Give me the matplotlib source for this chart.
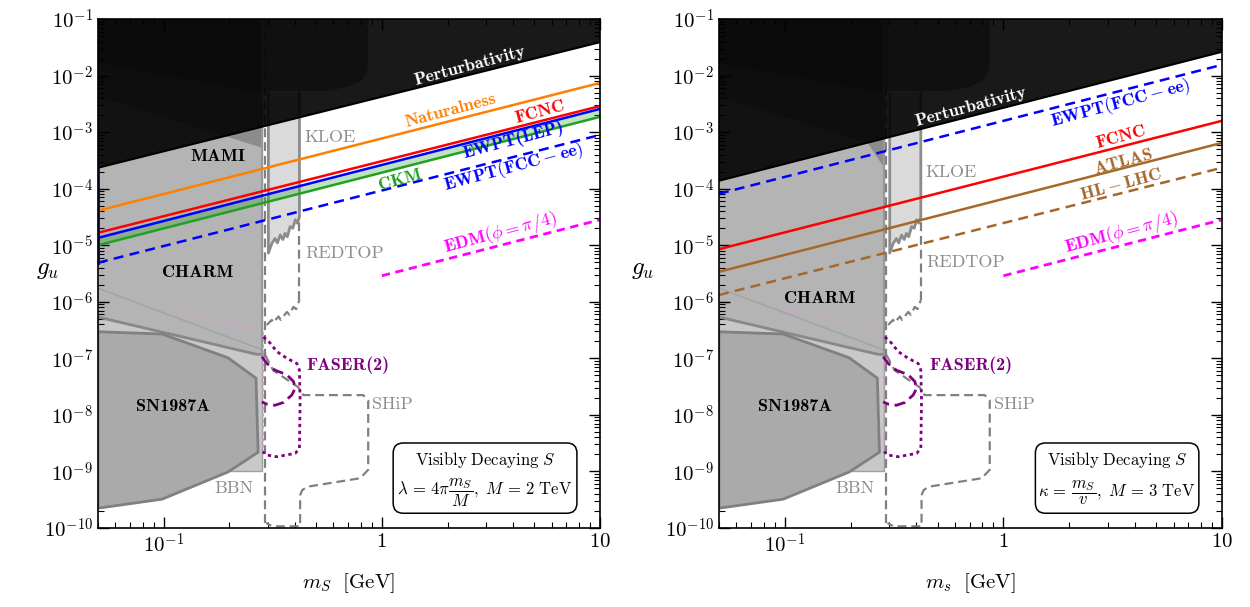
import numpy as np
import matplotlib
matplotlib.use('Agg')
import matplotlib.pyplot as plt
from matplotlib.patches import FancyBboxPatch
from matplotlib.ticker import LogLocator, NullFormatter, FixedLocator, FixedFormatter

plt.rcParams['mathtext.fontset'] = 'cm'
plt.rcParams['font.family'] = 'serif'
plt.rcParams['font.serif'] = ['cmr10', 'DejaVu Serif']
plt.rcParams['axes.unicode_minus'] = False

# ---------------- data (log10 g_u) ----------------
M_ENDS = [0.05, 10.0]          # straight lines are given at these masses

# left panel: lambda = 4 pi m_S / M, M = 2 TeV
left_pert = [-3.63, -1.41]
left_natural = [-4.39, -2.13]
left_fcnc = [-4.78, -2.54]
left_ewpt_lep = [-4.87, -2.59]
left_ckm = [-5.00, -2.73]
left_ewpt_fcc = [-5.31, -3.05]
left_mami_m = [0.05, 0.187, 0.285]
left_mami_lg = [-2.37, -3.06, -3.28]

# right panel: kappa = m_S / v, M = 3 TeV
right_pert = [-3.86, -1.58]
right_ewpt_fcc = [-4.09, -1.81]
right_fcnc = [-5.07, -2.80]
right_atlas = [-5.47, -3.19]
right_hllhc = [-5.88, -3.63]
right_mami_m = [0.05, 0.239, 0.285]
right_mami_lg = [-2.37, -3.19, -3.63]

edm_m = [1.0, 10.0]
edm_lg = [-5.54, -4.55]

# common regions
top_m = [0.05, 0.568, 0.701, 0.813, 0.857, 0.866, 0.866, 0.05]
top_lg = [-2.27, -2.27, -2.20, -2.08, -1.94, -1.69, -1.0, -1.0]
corner_m = [0.05, 0.285, 0.285, 0.05]
corner_lg = [-1.78, -2.31, -1.0, -1.0]

charm_m = [0.05, 0.254, 0.268, 0.283]
charm_lg = [-6.27, -6.91, -6.93, -6.93]
faint_m = [0.05, 0.283]
faint_lg = [-5.76, -6.85]

bbn_m = [0.05, 0.283]
bbn_lg = -9.0

sn_m = [0.05, 0.0984, 0.197, 0.265, 0.271, 0.197, 0.0984, 0.05]
sn_lg = [-6.53, -6.57, -6.99, -7.35, -8.66, -9.01, -9.49, -9.65]

kloe_m = [0.302, 0.313, 0.324, 0.332, 0.342, 0.352, 0.360, 0.369, 0.380,
          0.391, 0.401, 0.410, 0.419]
kloe_lg = [-5.14, -4.97, -4.88, -4.96, -4.82, -4.90, -4.79, -4.85, -4.67,
           -4.70, -4.55, -4.61, -4.50]
kloe_top = -2.31

redtop_m = [0.297, 0.313, 0.318, 0.336, 0.344, 0.367, 0.377, 0.393, 0.405, 0.419]
redtop_lg = [-6.41, -6.32, -6.37, -6.26, -6.32, -6.18, -6.23, -6.09, -6.13, -5.97]

ship_m = [0.2917, 0.3175, 0.4135, 0.436, 0.821, 0.866, 0.866, 0.796, 0.455,
          0.4315, 0.4222, 0.4222, 0.3143, 0.2948]
ship_lg = [-6.94, -7.21, -7.51, -7.65, -7.65, -7.74, -8.97, -9.12, -9.27,
           -9.33, -9.42, -9.97, -9.97, -9.91]

faser2_m = [0.2866, 0.3076, 0.330, 0.367, 0.4077, 0.419, 0.4222, 0.419,
            0.401, 0.330, 0.297, 0.2845]
faser2_lg = [-6.62, -6.73, -6.88, -7.00, -7.09, -7.21, -7.74, -8.59,
             -8.68, -8.74, -8.71, -8.65]
faser2_faint_m = [0.0993, 0.2825]
faser2_faint_lg = [-6.11, -6.53]

faser_m = [0.2818, 0.297, 0.324, 0.367, 0.3935, 0.401, 0.3865, 0.354, 0.324,
           0.297, 0.2818]
faser_lg = [-6.97, -7.09, -7.21, -7.29, -7.41, -7.53, -7.65, -7.78, -7.83,
            -7.81, -7.77]

GRAY_TXT = '#8c8c8c'
BROWN = '#a5682a'
PURPLE = '#800080'


def P(lg):
    return 10.0 ** np.asarray(lg, dtype=float)


def draw_common(ax, mami_m, mami_lg, pert):
    # regions hidden under the perturbativity band
    ax.fill(top_m, P(top_lg), color='#a0a0a0', lw=0, zorder=1.25)
    ax.fill(mami_m + [0.285, 0.05], P(mami_lg + [-1.0, -1.0]),
            color='#8c8c8c', lw=0, zorder=1.3)
    ax.fill(corner_m, P(corner_lg), color='#6e6e6e', lw=0, zorder=1.35)
    # BBN
    ax.fill([bbn_m[0], bbn_m[1], bbn_m[1], bbn_m[0]],
            P([bbn_lg, bbn_lg, -1.0, -1.0]), facecolor='#c8c8c8',
            edgecolor='#a0a0a0', lw=1, zorder=1.1)
    # CHARM
    ax.fill(charm_m + [0.283, 0.05], P(charm_lg + [-1.0, -1.0]),
            color='#b4b4b4', lw=0, zorder=1.2)
    ax.plot(charm_m, P(charm_lg), color='#888888', lw=2, zorder=2.2)
    ax.plot([0.283, 0.283], P([charm_lg[-1], -1.0]), color='#999999',
            lw=1.5, zorder=2.2)
    ax.plot(faint_m, P(faint_lg), color='#a2a2a2', lw=1, zorder=2.1)
    # SN1987A
    ax.fill(sn_m, P(sn_lg), facecolor='#aaaaaa', edgecolor='#808080',
            lw=2, zorder=2.3)
    # KLOE
    km = [kloe_m[0]] + kloe_m + [kloe_m[-1]]
    kl = [kloe_top] + kloe_lg + [kloe_top]
    ax.fill(km, P(kl), facecolor='#dadada', lw=0, zorder=2)
    ax.plot(km, P(kl), color='#8c8c8c', lw=2, zorder=2.2)
    # FASER(2) faint part behind the grey
    ax.plot(faser2_faint_m, P(faser2_faint_lg), color='#c9a6c9',
            ls=(0, (1.5, 1.5)), lw=1.5, zorder=2.15)
    ax.plot([0.2845, 0.2845], P([-6.53, -8.65]), color='#c9a6c9',
            ls=(0, (1.5, 1.5)), lw=1.5, zorder=2.15)
    # dashed grey projections
    dash = dict(color='#808080', ls=(0, (4, 2.2)), lw=1.6, zorder=3)
    ax.plot([0.2917, 0.2917], P([-9.91, -1.0]), **dash)
    ax.plot(ship_m, P(ship_lg), **dash)
    ax.plot(redtop_m, P(redtop_lg), **dash)
    ax.plot([0.419, 0.419], P([redtop_lg[-1], kloe_lg[-1]]), **dash)
    # FASER / FASER2
    ax.plot(faser2_m, P(faser2_lg), color=PURPLE, ls=(0, (1.2, 1.3)), lw=2,
            zorder=3.5)
    ax.plot(faser_m, P(faser_lg), color=PURPLE, ls=(0, (4, 2)), lw=2,
            zorder=3.5)
    # perturbativity
    ax.fill([M_ENDS[0], M_ENDS[1], M_ENDS[1], M_ENDS[0]],
            P([pert[0], pert[1], -1.0, -1.0]), color='black', alpha=0.9,
            lw=0, zorder=4)
    ax.plot(M_ENDS, P(pert), color='black', lw=1.5, zorder=4.1)
    # EDM
    ax.plot(edm_m, P(edm_lg), color='#ff00ff', ls=(0, (3, 2)), lw=2, zorder=5)


def line(ax, lg, color, ls='-'):
    ax.plot(M_ENDS, P(lg), color=color, lw=1.8, ls=ls, zorder=5)


def txt(ax, m, lg, s, color, rot=0, size=13, family=None):
    kw = {} if family is None else dict(family=family)
    ax.text(m, 10 ** lg, s, color=color, rotation=rot, ha='center',
            va='center', rotation_mode='anchor', fontsize=size, zorder=6, **kw)


def style(ax, xlabel, ylab_x):
    ax.set_xscale('log')
    ax.set_yscale('log')
    ax.set_xlim(0.05, 10)
    ax.set_ylim(1e-10, 1e-1)
    ax.xaxis.set_major_locator(FixedLocator([0.1, 1, 10]))
    ax.xaxis.set_major_formatter(FixedFormatter([r'$10^{-1}$', r'$1$', r'$10$']))
    ax.xaxis.set_minor_locator(LogLocator(base=10, subs=np.arange(2, 10)))
    ax.xaxis.set_minor_formatter(NullFormatter())
    yt = [10.0 ** k for k in range(-10, 0)]
    ax.yaxis.set_major_locator(FixedLocator(yt))
    ax.yaxis.set_major_formatter(FixedFormatter(
        [r'$10^{%d}$' % k for k in range(-10, 0)]))
    ax.yaxis.set_minor_locator(LogLocator(base=10, subs=np.arange(2, 10),
                                          numticks=20))
    ax.yaxis.set_minor_formatter(NullFormatter())
    ax.tick_params(which='both', direction='in', top=True, right=True,
                   labelsize=15)
    ax.tick_params(which='major', length=8, width=1)
    ax.tick_params(which='minor', length=4, width=0.8)
    for sp in ax.spines.values():
        sp.set_linewidth(1.2)
        sp.set_zorder(10)
    ax.set_xlabel(xlabel, fontsize=15, labelpad=10)
    ax.set_ylabel(r'$g_u$', fontsize=18, rotation=0, ha='center', va='center')
    ax.yaxis.set_label_coords(ylab_x, 0.507)


def box(ax, x0, x1, line2):
    ax.add_patch(FancyBboxPatch((x0, 0.029), x1 - x0, 0.138,
                                boxstyle='round,pad=0,rounding_size=0.02',
                                transform=ax.transAxes, facecolor='white',
                                edgecolor='black', lw=1.1, zorder=7))
    xc = 0.5 * (x0 + x1)
    ax.text(xc, 0.134, r'$\mathrm{Visibly\ Decaying}\ S$', transform=ax.transAxes,
            ha='center', va='center', fontsize=12, zorder=8)
    ax.text(xc, 0.068, line2, transform=ax.transAxes, ha='center',
            va='center', fontsize=12, zorder=8)


fig = plt.figure(figsize=(12.5, 6.07), dpi=100)
ax1 = fig.add_axes([98 / 1250, 79 / 607, 502 / 1250, 509 / 607])
ax2 = fig.add_axes([719 / 1250, 79 / 607, 503 / 1250, 509 / 607])

# ---------------- left panel ----------------
draw_common(ax1, left_mami_m, left_mami_lg, left_pert)
ax1.fill_between(M_ENDS, P(left_ckm), P(left_ewpt_lep), color='#2ca02c',
                 alpha=0.3, lw=0, zorder=4.9)
line(ax1, left_natural, '#ff8000')
line(ax1, left_fcnc, 'red')
line(ax1, left_ewpt_lep, 'blue')
line(ax1, left_ckm, '#22a022')
line(ax1, left_ewpt_fcc, 'blue', ls=(0, (4, 2.5)))
ax1.plot([0.0502, 0.0502], P([left_ewpt_fcc[0], left_pert[0]]), color='#0000aa',
         lw=2, zorder=5)

R = 15
BF = 'cmb10'
RM = 'cmr10'
txt(ax1, 2.54, -1.83, 'Perturbativity', 'white', R, family=BF)
txt(ax1, 2.06, -2.61, 'Naturalness', '#ff8000', R, family=BF)
txt(ax1, 5.33, -2.64, 'FCNC', 'red', R, family=BF)
txt(ax1, 4.01, -3.14, 'EWPT(LEP)', 'blue', R, family=BF)
txt(ax1, 4.01, -3.63, r'$\mathbf{EWPT(FCC-ee)}$', 'blue', R)
txt(ax1, 1.21, -3.85, 'CKM', '#22a022', R, family=BF)
txt(ax1, 3.49, -4.78, r'$\mathbf{EDM(}\phi\mathbf{=}\pi\mathbf{/4)}$', '#ff00ff', R)
txt(ax1, 0.579, -3.09, 'KLOE', GRAY_TXT, family=RM)
txt(ax1, 0.177, -3.44, 'MAMI', 'black', family=BF)
txt(ax1, 0.679, -5.14, 'REDTOP', GRAY_TXT, family=RM)
txt(ax1, 0.144, -5.49, 'CHARM', 'black', family=BF)
txt(ax1, 0.701, -7.13, 'FASER(2)', PURPLE, family=BF)
txt(ax1, 1.12, -7.82, 'SHiP', GRAY_TXT, family=RM)
txt(ax1, 0.110, -7.86, 'SN1987A', 'black', family=BF)
txt(ax1, 0.210, -9.29, 'BBN', GRAY_TXT, family=RM)
box(ax1, 0.588, 0.954,
    r'$\lambda\,=\,4\pi\dfrac{m_S}{M},\ M\,=\,2\ \mathrm{TeV}$')
style(ax1, r'$m_S\ \ [\mathrm{GeV}]$', -0.100)

# ---------------- right panel ----------------
draw_common(ax2, right_mami_m, right_mami_lg, right_pert)
line(ax2, right_ewpt_fcc, 'blue', ls=(0, (4, 2.5)))
line(ax2, right_fcnc, 'red')
line(ax2, right_atlas, BROWN)
line(ax2, right_hllhc, BROWN, ls=(0, (4, 2.5)))

txt(ax2, 0.708, -2.56, 'Perturbativity', 'white', R, family=BF)
txt(ax2, 3.45, -2.49, r'$\mathbf{EWPT(FCC-ee)}$', 'blue', R)
txt(ax2, 3.45, -3.09, 'FCNC', 'red', R, family=BF)
txt(ax2, 3.53, -3.53, 'ATLAS', BROWN, R, family=BF)
txt(ax2, 3.45, -3.93, r'$\mathbf{HL-LHC}$', BROWN, R)
txt(ax2, 3.45, -4.78, r'$\mathbf{EDM(}\phi\mathbf{=}\pi\mathbf{/4)}$', '#ff00ff', R)
txt(ax2, 0.574, -3.71, 'KLOE', GRAY_TXT, family=RM)
txt(ax2, 0.67, -5.31, 'REDTOP', GRAY_TXT, family=RM)
txt(ax2, 0.145, -5.95, 'CHARM', 'black', family=BF)
txt(ax2, 0.71, -7.13, 'FASER(2)', PURPLE, family=BF)
txt(ax2, 1.12, -7.82, 'SHiP', GRAY_TXT, family=RM)
txt(ax2, 0.111, -7.86, 'SN1987A', 'black', family=BF)
txt(ax2, 0.21, -9.29, 'BBN', GRAY_TXT, family=RM)
box(ax2, 0.629, 0.954,
    r'$\kappa\,=\,\dfrac{m_S}{v},\ M\,=\,3\ \mathrm{TeV}$')
style(ax2, r'$m_s\ \ [\mathrm{GeV}]$', -0.151)

fig.savefig('out.png', dpi=100)
